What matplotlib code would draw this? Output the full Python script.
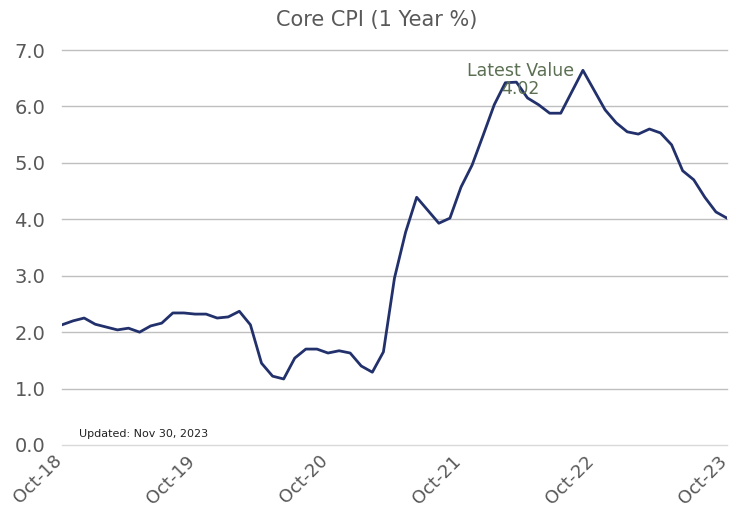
import matplotlib
matplotlib.use("Agg")
import matplotlib.pyplot as plt
import matplotlib.transforms as mtransforms
import pandas as pd

# ── DATA ──────────────────────────────────────────────────────────────────────
months = pd.date_range("2018-10-01", "2023-10-01", freq="MS")

core_cpi = [
    2.13, 2.20, 2.25, 2.14, 2.09, 2.04, 2.07, 2.00, 2.11, 2.16, 2.34, 2.34,   # Oct-18 .. Sep-19
    2.32, 2.32, 2.25, 2.27, 2.37, 2.13, 1.45, 1.22, 1.17, 1.54, 1.70, 1.70,   # Oct-19 .. Sep-20
    1.63, 1.67, 1.63, 1.40, 1.29, 1.65, 2.96, 3.77, 4.39, 4.16, 3.93, 4.02,   # Oct-20 .. Sep-21
    4.57, 4.96, 5.49, 6.03, 6.42, 6.43, 6.15, 6.03, 5.88, 5.88, 6.26, 6.64,   # Oct-21 .. Sep-22
    6.29, 5.94, 5.71, 5.55, 5.51, 5.60, 5.53, 5.32, 4.86, 4.70, 4.39, 4.13,   # Oct-22 .. Sep-23
    4.02,                                                                     # Oct-23
]

tick_labels = ["Oct-18", "Oct-19", "Oct-20", "Oct-21", "Oct-22", "Oct-23"]
y_ticks = [0, 1, 2, 3, 4, 5, 6, 7]

TITLE = "Core CPI (1 Year %)"
UPDATED = "Updated: Nov 30, 2023"

COLORS = {
    "line": "#22316C",
    "grid": "#BFBFBF",
    "zero": "#D9D9D9",
    "text": "#595959",
    "note": "#5B6F52",
}

# ── FIGURE ────────────────────────────────────────────────────────────────────
fig = plt.figure(figsize=(7.3, 5.18), dpi=100)
ax = fig.add_axes([62 / 730, 73 / 518, 665 / 730, 395 / 518])

x = list(range(len(core_cpi)))
ax.plot(x, core_cpi, color=COLORS["line"], lw=2.0, solid_joinstyle="round", zorder=3)

ax.set_xlim(0, len(core_cpi) - 1)
ax.set_ylim(0, 7)
ax.set_yticks(y_ticks)
ax.set_yticklabels([f"{v:.1f}" for v in y_ticks])
ax.set_xticks([x[i] for i in range(0, len(x), 12)])
ax.set_xticklabels(tick_labels, rotation=45, ha="right", va="top",
                   rotation_mode="anchor")

ax.tick_params(axis="y", length=0, pad=12, labelsize=14, labelcolor=COLORS["text"])
ax.tick_params(axis="x", length=0, pad=5, labelsize=13, labelcolor=COLORS["text"])

# nudge the slanted month labels left so their upper end sits on the tick
shift = mtransforms.ScaledTranslation(-9 / 100, 0, fig.dpi_scale_trans)
for lbl in ax.get_xticklabels():
    lbl.set_transform(lbl.get_transform() + shift)

for s in ax.spines.values():
    s.set_visible(False)
ax.yaxis.grid(True, color=COLORS["grid"], lw=1.0)
ax.set_axisbelow(True)
for gl in ax.get_ygridlines():
    gl.set_clip_on(False)
ax.get_ygridlines()[0].set_color(COLORS["zero"])

# ── TEXT ──────────────────────────────────────────────────────────────────────
fig.text(377 / 730, 1 - 20 / 518, TITLE, ha="center", va="center",
         fontsize=15, color=COLORS["text"])

ax.text(41.4, 6.47, f"Latest Value\n{core_cpi[-1]:.2f}", ha="center", va="center",
        fontsize=12.5, color=COLORS["note"], linespacing=0.95, zorder=4)

ax.text(1.5, 0.19, UPDATED, ha="left", va="center", fontsize=8, color="#222222")

fig.savefig("out.png", dpi=100, facecolor="white")
